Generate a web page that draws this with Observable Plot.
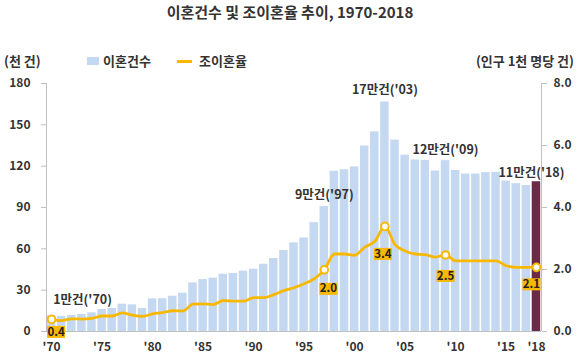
<!DOCTYPE html>
<html><head><meta charset="utf-8">
<script src="https://cdn.jsdelivr.net/npm/d3@7"></script>
<script src="https://cdn.jsdelivr.net/npm/@observablehq/plot@0.6"></script>
<style>
body{margin:0;background:#fff;font-family:"Noto Sans CJK KR","Noto Sans",sans-serif;}
#wrap{position:relative;width:580px;height:357px;overflow:hidden;}
#wrap svg{position:absolute;left:0;top:0;}
.t{position:absolute;white-space:nowrap;color:#333;font-weight:bold;line-height:1;}
</style></head><body><div id="wrap"></div>
<script>
const years = [1970,1971,1972,1973,1974,1975,1976,1977,1978,1979,
  1980,1981,1982,1983,1984,1985,1986,1987,1988,1989,
  1990,1991,1992,1993,1994,1995,1996,1997,1998,1999,
  2000,2001,2002,2003,2004,2005,2006,2007,2008,2009,
  2010,2011,2012,2013,2014,2015,2016,2017,2018];
// 이혼건수 (천 건)
const counts = [11.6,11.0,11.6,12.3,13.5,16.0,16.7,19.8,19.3,16.7,
  23.7,23.8,25.6,27.8,35.3,37.7,38.7,41.6,42.1,43.8,
  45.2,48.8,53.0,58.8,64.3,67.9,79.0,90.7,116.3,117.4,
  119.5,134.6,144.9,166.6,138.9,128.0,124.5,124.1,116.5,124.0,
  116.9,114.3,114.3,115.3,115.5,109.2,107.3,106.0,108.7];
// 조이혼율 (인구 1천 명당 건)
const rates = [0.39,0.35,0.41,0.40,0.42,0.50,0.50,0.60,0.53,0.49,
  0.57,0.61,0.67,0.66,0.88,0.89,0.87,1.00,0.98,0.98,
  1.09,1.09,1.19,1.32,1.41,1.54,1.70,1.99,2.50,2.50,
  2.46,2.72,2.91,3.39,2.80,2.60,2.50,2.48,2.40,2.47,
  2.28,2.28,2.28,2.28,2.28,2.12,2.07,2.07,2.07];
const markYears = [1970,1997,2003,2009,2018];
const rateLabels = ["0.4","2.0","3.4","2.5","2.1"];
const countLabels = ["1만건('70)","9만건('97)","17만건('03)","12만건('09)","11만건('18)"];
const leftTicks = [0,30,60,90,120,150,180];
const rightTicks = [0,2,4,6,8];
const xTicks = [1970,1975,1980,1985,1990,1995,2000,2005,2010,2015,2018];

// styles
const BLUE = "#C5D8F1", MAROON = "#6B2B47", ORANGE = "#F9B800", GRID = "#BFBFBF", INK = "#333";
const rateOffsets = [[4.5,12.5],[4,19],[-2,27.5],[0,21],[-5,17]];
const countOffsets = [[31,-16],[0,-12],[0,-12],[0,-11],[-5,-9]];

const K = 180 / 8;
const data = years.map((year, i) => ({year, count: counts[i], rate: rates[i]}));
const marks = markYears.map((year, i) => ({year, count: counts[years.indexOf(year)], rate: rates[years.indexOf(year)], rl: rateLabels[i], cl: countLabels[i]}));

const boxSymbol = {draw(ctx) { ctx.rect(-9, -6, 18, 12); }};

const perLabel = [];
marks.forEach((m, i) => {
  const [rdx, rdy] = rateOffsets[i];
  const [cdx, cdy] = countOffsets[i];
  perLabel.push(
    Plot.dot([m], {x: "year", y: d => d.rate * K, symbol: boxSymbol, r: 5, fill: ORANGE, stroke: null, dx: rdx, dy: rdy}),
    Plot.text([m], {x: "year", y: d => d.rate * K, text: "rl", dx: rdx, dy: rdy, fill: "#222", fontWeight: "bold", fontSize: 11.5}),
    Plot.text([m], {x: "year", y: "count", text: "cl", dx: cdx, dy: cdy, fill: INK, fontWeight: "bold", fontSize: 12.5})
  );
});

const plot = Plot.plot({
  width: 580, height: 357,
  marginLeft: 46, marginRight: 39, marginTop: 83, marginBottom: 26,
  style: {fontFamily: '"Noto Sans CJK KR","Noto Sans",sans-serif', background: "transparent"},
  x: {type: "linear", domain: [1969.5, 2018.5]},
  y: {domain: [0, 180]},
  marks: [
    Plot.rectY(data.filter(d => d.year !== 2018), {x1: d => d.year - 0.5, x2: d => d.year + 0.5, y: "count", fill: BLUE, insetLeft: 0.8, insetRight: 0.8}),
    Plot.rectY(data.filter(d => d.year === 2018), {x1: d => d.year - 0.5, x2: d => d.year + 0.5, y: "count", fill: MAROON, insetLeft: 0.8, insetRight: 0.8}),
    Plot.ruleX([1969.5, 2018.5], {stroke: GRID, strokeWidth: 1}),
    Plot.ruleY([0], {stroke: GRID, strokeWidth: 1}),
    Plot.line(data, {x: "year", y: d => d.rate * K, stroke: ORANGE, strokeWidth: 2.8, curve: "monotone-x"}),
    Plot.dot(marks, {x: "year", y: d => d.rate * K, r: 3.8, fill: "white", stroke: ORANGE, strokeWidth: 2}),
    ...perLabel,
    Plot.axisY({anchor: "left", ticks: leftTicks, tickSize: 5, tickPadding: 11, label: null, stroke: GRID, fill: INK, fontWeight: "bold", fontSize: 12}),
    Plot.axisY({anchor: "right", ticks: rightTicks.map(v => v * K), tickFormat: d => (d / K).toFixed(1), tickSize: 5, tickPadding: 7, label: null, stroke: GRID, fill: INK, fontWeight: "bold", fontSize: 12}),
    Plot.axisX({ticks: xTicks, tickFormat: d => "'" + String(d).slice(2), tickSize: 0, tickPadding: 11, label: null, fill: INK, fontWeight: "bold", fontSize: 12})
  ]
});

const wrap = document.getElementById("wrap");
wrap.appendChild(plot);

function addText(txt, css) {
  const el = document.createElement("div");
  el.className = "t";
  el.textContent = txt;
  Object.assign(el.style, css);
  wrap.appendChild(el);
  return el;
}
addText("이혼건수 및 조이혼율 추이, 1970-2018", {left: "290px", top: "4px", fontSize: "15px", transform: "translateX(-50%)"});
addText("(천 건)", {left: "4px", top: "54px", fontSize: "13px"});
addText("(인구 1천 명당 건)", {right: "6px", top: "54px", fontSize: "13px"});
const sq = document.createElement("div");
Object.assign(sq.style, {position: "absolute", left: "87px", top: "57px", width: "12px", height: "8px", background: BLUE});
wrap.appendChild(sq);
addText("이혼건수", {left: "103px", top: "54px", fontSize: "13px"});
const ln = document.createElement("div");
Object.assign(ln.style, {position: "absolute", left: "177px", top: "59.5px", width: "15px", height: "3px", background: ORANGE});
wrap.appendChild(ln);
addText("조이혼율", {left: "199px", top: "54px", fontSize: "13px"});
</script></body></html>
